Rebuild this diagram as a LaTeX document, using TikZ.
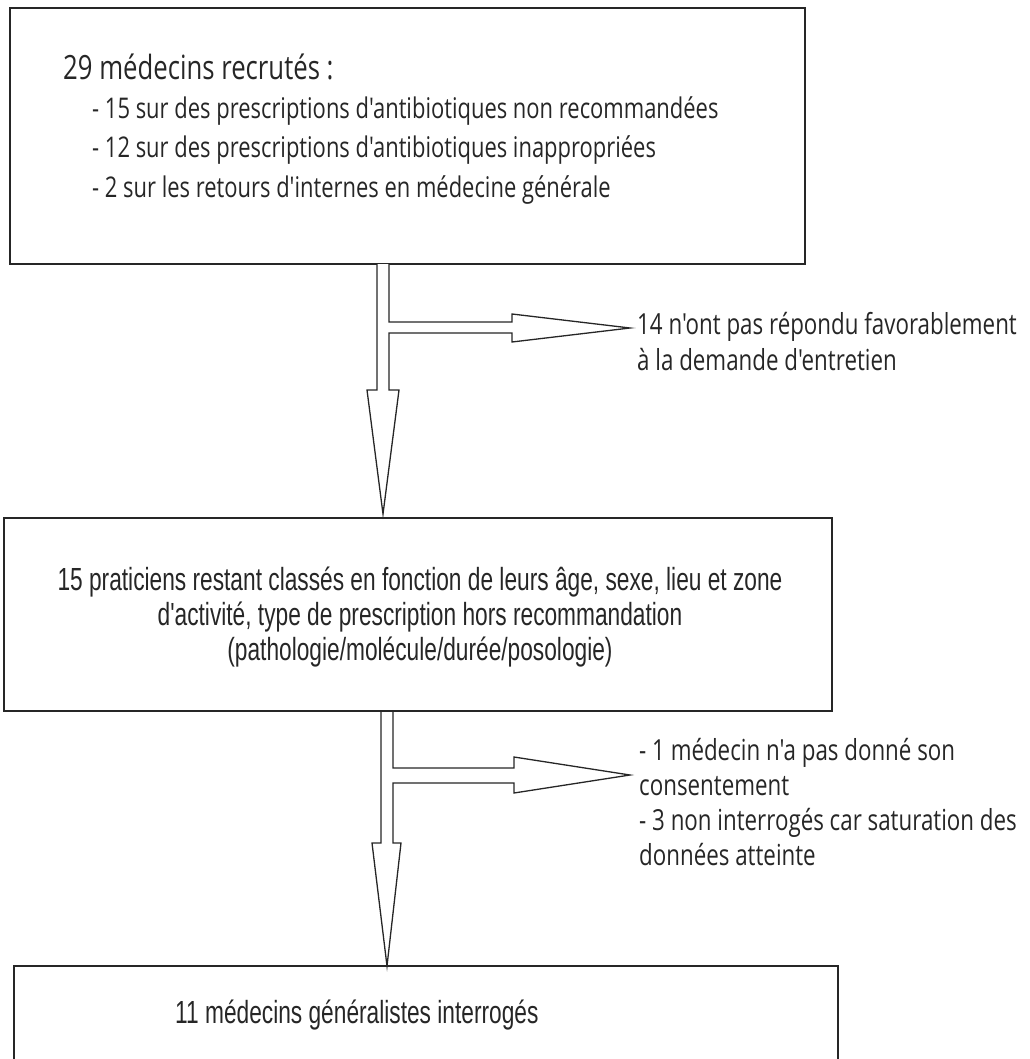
\documentclass[tikz,border=0pt]{standalone}
\usepackage{fontspec}
\setmainfont{Open Sans}
\newfontfamily\segoe[FakeStretch=0.77]{Open Sans}
\newfontfamily\narrowarial[FakeStretch=0.71]{Liberation Sans}
\begin{document}
\begin{tikzpicture}[x=1pt,y=-1pt,
  boxstyle/.style={draw=black!85,line width=1.8pt,inner sep=0pt},
  arrowstyle/.style={draw=black!85,line width=1.3pt,fill=white,line join=miter},
  txt/.style={inner sep=0pt,anchor=base west,text=black!85},
  ctxt/.style={inner sep=0pt,anchor=base,text=black!85},
  listfont/.style={font=\segoe\fontsize{28.5}{34}\selectfont},
  sidefont/.style={font=\segoe\fontsize{29}{34}\selectfont},
  arialfont/.style={font=\narrowarial\fontsize{32}{34}\selectfont},
  ]
\useasboundingbox (0,0) rectangle (1029,1059);
\clip (0,0) rectangle (1029,1059);
% boxes
\node[boxstyle,minimum width=795pt,minimum height=256pt] (b1) at (407.5,136) {};
\node[boxstyle,minimum width=828pt,minimum height=193pt] (b2) at (418,614.5) {};
\node[boxstyle,minimum width=824pt,minimum height=140pt] (b3) at (426,1036) {};
% box 1 text
\node[txt,font=\segoe\fontsize{33.4}{36}\selectfont] (t1) at (63,80) {29 médecins recrutés :};
\node[txt,listfont] (t1a) at (92,119) {- 15 sur des prescriptions d'antibiotiques non recommandées};
\node[txt,listfont] (t1b) at (92,158) {- 12 sur des prescriptions d'antibiotiques inappropriées};
\node[txt,listfont] (t1c) at (92,198) {- 2 sur les retours d'internes en médecine générale};
% box 2 text
\node[ctxt,arialfont] (t2a) at (420,590) {15 praticiens restant classés en fonction de leurs âge, sexe, lieu et zone};
\node[ctxt,arialfont] (t2b) at (420,625) {d'activité, type de prescription hors recommandation};
\node[ctxt,arialfont] (t2c) at (420,660) {(pathologie/molécule/durée/posologie)};
% box 3 text
\node[txt,arialfont] (t3) at (175,1023) {11 médecins généralistes interrogés};
% side texts
\node[txt,sidefont] (s1a) at (637,334) {14 n'ont pas répondu favorablement};
\node[txt,sidefont] (s1b) at (637,370) {à la demande d'entretien};
\node[txt,sidefont] (s2a) at (639,760) {- 1 médecin n'a pas donné son};
\node[txt,sidefont] (s2b) at (639,795) {consentement};
\node[txt,sidefont] (s2c) at (639,830) {- 3 non interrogés car saturation des};
\node[txt,sidefont] (s2d) at (639,865) {données atteinte};
% arrow 1
\coordinate (a1) at (377,264);
\draw[arrowstyle] (a1) -- (377,390) -- (367,390) -- (383,514) -- (399,390) -- (389,390)
  -- (389,333) -- (512,333) -- (512,342) -- (630,328) -- (512,314) -- (512,322) -- (389,322) -- (389,264);
% arrow 2
\coordinate (a2) at (381,712);
\draw[arrowstyle] (a2) -- (381,843) -- (372,843) -- (387,966) -- (401,843) -- (393,843)
  -- (393,783) -- (514,783) -- (514,793) -- (630,775) -- (514,757) -- (514,768) -- (393,768) -- (393,712);
\end{tikzpicture}
\end{document}
